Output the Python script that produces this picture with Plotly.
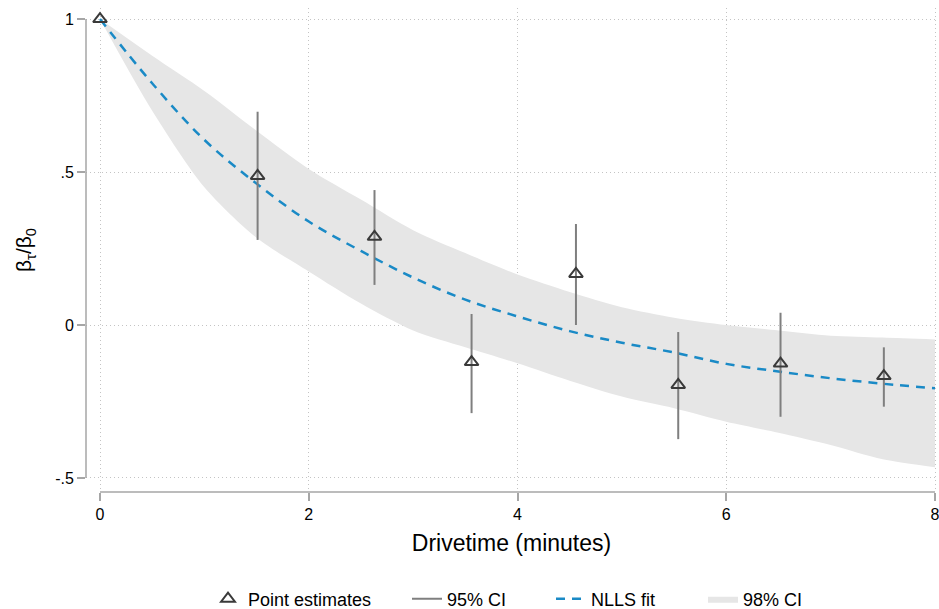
import plotly.graph_objects as go

# Point estimates and 95% CI
pt_x = [0.0, 1.51, 2.63, 3.56, 4.56, 5.54, 6.52, 7.51]
pt_y = [1.0, 0.487, 0.288, -0.121, 0.167, -0.196, -0.126, -0.167]
ci_lo = [None, 0.278, 0.131, -0.288, 0.0, -0.373, -0.300, -0.267]
ci_hi = [None, 0.697, 0.441, 0.036, 0.330, -0.023, 0.040, -0.073]

# NLLS fit and 98% CI band
fit_x = [0.0, 0.5, 1.0, 1.5, 2.0, 2.5, 3.0, 3.5, 4.0, 4.5, 5.0, 5.5, 6.0, 6.5, 7.0, 7.5, 8.0]
fit_y = [1.0, 0.79, 0.605, 0.462, 0.338, 0.242, 0.155, 0.083, 0.028, -0.02, -0.058, -0.09,
         -0.127, -0.152, -0.174, -0.192, -0.207]
band_lo = [1.0, 0.70, 0.45, 0.285, 0.175, 0.07, -0.018, -0.073, -0.125, -0.182, -0.234, -0.272,
           -0.316, -0.352, -0.392, -0.439, -0.465]
band_hi = [1.0, 0.88, 0.765, 0.635, 0.51, 0.41, 0.31, 0.235, 0.165, 0.108, 0.058, 0.024,
           0.0, -0.018, -0.035, -0.041, -0.047]

y_ticks = [1, 0.5, 0, -0.5]
y_labels = ["1", ".5", "0", "-.5"]
x_ticks = [0, 2, 4, 6, 8]
x_labels = ["0", "2", "4", "6", "8"]

FONT = "Liberation Sans, Arial, Helvetica, sans-serif"
AXIS_GRAY = "#a6a6a6"
GRID = "#c4c4c4"
W, H = 939, 609

fig = go.Figure()

# 98% CI band (lower edge, then upper edge filled to it)
fig.add_trace(go.Scatter(
    x=fit_x, y=band_lo, mode="lines", showlegend=False, hoverinfo="skip",
    line=dict(width=0, color="#e6e6e6", shape="spline", smoothing=0.8)))
fig.add_trace(go.Scatter(
    x=fit_x, y=band_hi, mode="lines", name="98% CI", legend="legend4",
    fill="tonexty", fillcolor="#e6e6e6", hoverinfo="skip",
    line=dict(width=0, color="#e6e6e6", shape="spline", smoothing=0.8)))

# NLLS fit
fig.add_trace(go.Scatter(
    x=fit_x, y=fit_y, mode="lines", name="NLLS fit", legend="legend3",
    line=dict(color="#1a8ac6", width=2.5, dash="9px,7px", shape="spline")))

# 95% CI bars
ex, ey = [], []
for xv, lo, hi in zip(pt_x, ci_lo, ci_hi):
    if lo is None:
        continue
    ex += [xv, xv, None]
    ey += [lo, hi, None]
fig.add_trace(go.Scatter(
    x=ex, y=ey, mode="lines", name="95% CI", legend="legend2",
    line=dict(color="#7f7f7f", width=2)))

# Point estimates
fig.add_trace(go.Scatter(
    x=pt_x, y=pt_y, mode="markers", name="Point estimates", legend="legend",
    cliponaxis=False,
    marker=dict(symbol="triangle-up-open", size=12, color="#3a3a3a",
                line=dict(width=2, color="#3a3a3a"))))

# axis lines (Stata-style, spanning only the tick range)
fig.add_shape(type="line", xref="paper", yref="y", x0=0, x1=0,
              y0=min(y_ticks), y1=max(y_ticks), line=dict(color=AXIS_GRAY, width=1.5))
fig.add_shape(type="line", xref="x", yref="paper", y0=0, y1=0,
              x0=min(x_ticks), x1=max(x_ticks), line=dict(color=AXIS_GRAY, width=1.5))


def leg(px):
    return dict(orientation="h", xref="container", yref="container",
                x=px / W, xanchor="left", y=1 - 599 / H, yanchor="middle",
                font=dict(size=18), bgcolor="rgba(0,0,0,0)")


fig.update_layout(
    width=W, height=H,
    margin=dict(l=86, r=2, t=8, b=117),
    paper_bgcolor="white", plot_bgcolor="white",
    font=dict(family=FONT, size=16, color="black"),
    showlegend=True,
    legend=leg(208), legend2=leg(407), legend3=leg(551), legend4=leg(703),
)
fig.update_xaxes(
    range=[-0.1341, 8.0192], tickvals=x_ticks, ticktext=x_labels,
    showgrid=True, gridcolor=GRID, griddash="1px,3px", gridwidth=1,
    zeroline=False, showline=False, ticklabeloverflow="allow",
    ticks="outside", ticklen=8, tickcolor=AXIS_GRAY, tickwidth=1.5,
    tickfont=dict(size=16),
    title=dict(text="Drivetime (minutes)", font=dict(size=23), standoff=12),
    automargin=False)
fig.update_yaxes(
    range=[-0.5458, 1.036], tickvals=y_ticks, ticktext=y_labels,
    showgrid=True, gridcolor=GRID, griddash="1px,3px", gridwidth=1,
    zeroline=False, showline=False,
    ticks="outside", ticklen=8, tickcolor=AXIS_GRAY, tickwidth=1.5,
    tickfont=dict(size=16),
    title=dict(text="β<sub>τ</sub>/β<sub>0</sub>", font=dict(size=21), standoff=17),
    automargin=False)

fig.write_html("out.html", config={"displayModeBar": False},
               post_script="document.body.style.margin='0';")
